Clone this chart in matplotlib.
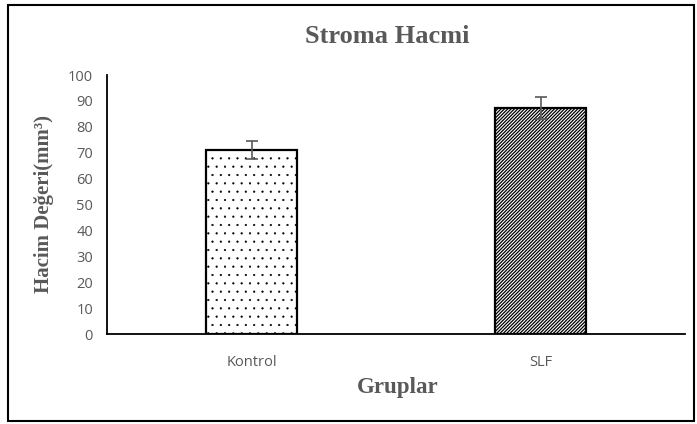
import matplotlib
matplotlib.use("Agg")
import matplotlib.pyplot as plt
from matplotlib.patches import Rectangle

categories = ["Kontrol", "SLF"]
values = [71, 87.3]
errors = [3.5, 4.3]
hatches = ["..", "/" * 10]
hatch_lw = [0.35, 0.9]
yticks = [0, 10, 20, 30, 40, 50, 60, 70, 80, 90, 100]

fig = plt.figure(figsize=(6.97, 4.24), dpi=100)
ax = fig.add_axes([0.1535, 0.212, 0.83, 0.611])

x = list(range(len(categories)))
bars = []
for xi, v, h, hl in zip(x, values, hatches, hatch_lw):
    plt.rcParams['hatch.linewidth'] = hl
    b = ax.bar(xi, v, width=0.315, color="white", edgecolor="black", linewidth=1.6,
               hatch=h, zorder=2)[0]
    if hasattr(b, "set_hatch_linewidth"):
        b.set_hatch_linewidth(hl)
    bars.append(b)
ax.errorbar(x, values, yerr=errors, fmt="none", ecolor="#595959", elinewidth=1.2,
            capsize=4, capthick=1.2, zorder=3)

ax.set_xlim(-0.5, 1.5)
ax.set_ylim(0, 100)
ax.set_yticks(yticks)
ax.set_xticks(x)
ax.set_xticklabels(categories)
ax.tick_params(length=0, labelsize=10.5, colors="#595959")
ax.tick_params(axis="y", pad=10)
ax.tick_params(axis="x", pad=15)
for lab in ax.get_xticklabels() + ax.get_yticklabels():
    lab.set_family("Open Sans")
for s in ["top", "right"]:
    ax.spines[s].set_visible(False)
for s in ["left", "bottom"]:
    ax.spines[s].set_linewidth(1.3)
    ax.spines[s].set_color("black")

serif = dict(family="Liberation Serif", weight="bold", color="#595959")
fig.text(0.555, 0.913, "Stroma Hacmi", ha="center", va="center", fontsize=19, **serif)
fig.text(0.063, 0.519, "Hacim Değeri(mm³)", ha="center", va="center", rotation=90,
         fontsize=15, **serif)
fig.text(0.570, 0.087, "Gruplar", ha="center", va="center", fontsize=16.5, **serif)

fig.patches.append(Rectangle((0.011, 0.007), 0.985, 0.981, transform=fig.transFigure,
                             fill=False, edgecolor="black", linewidth=1.5))

fig.savefig("out.png", dpi=100)
